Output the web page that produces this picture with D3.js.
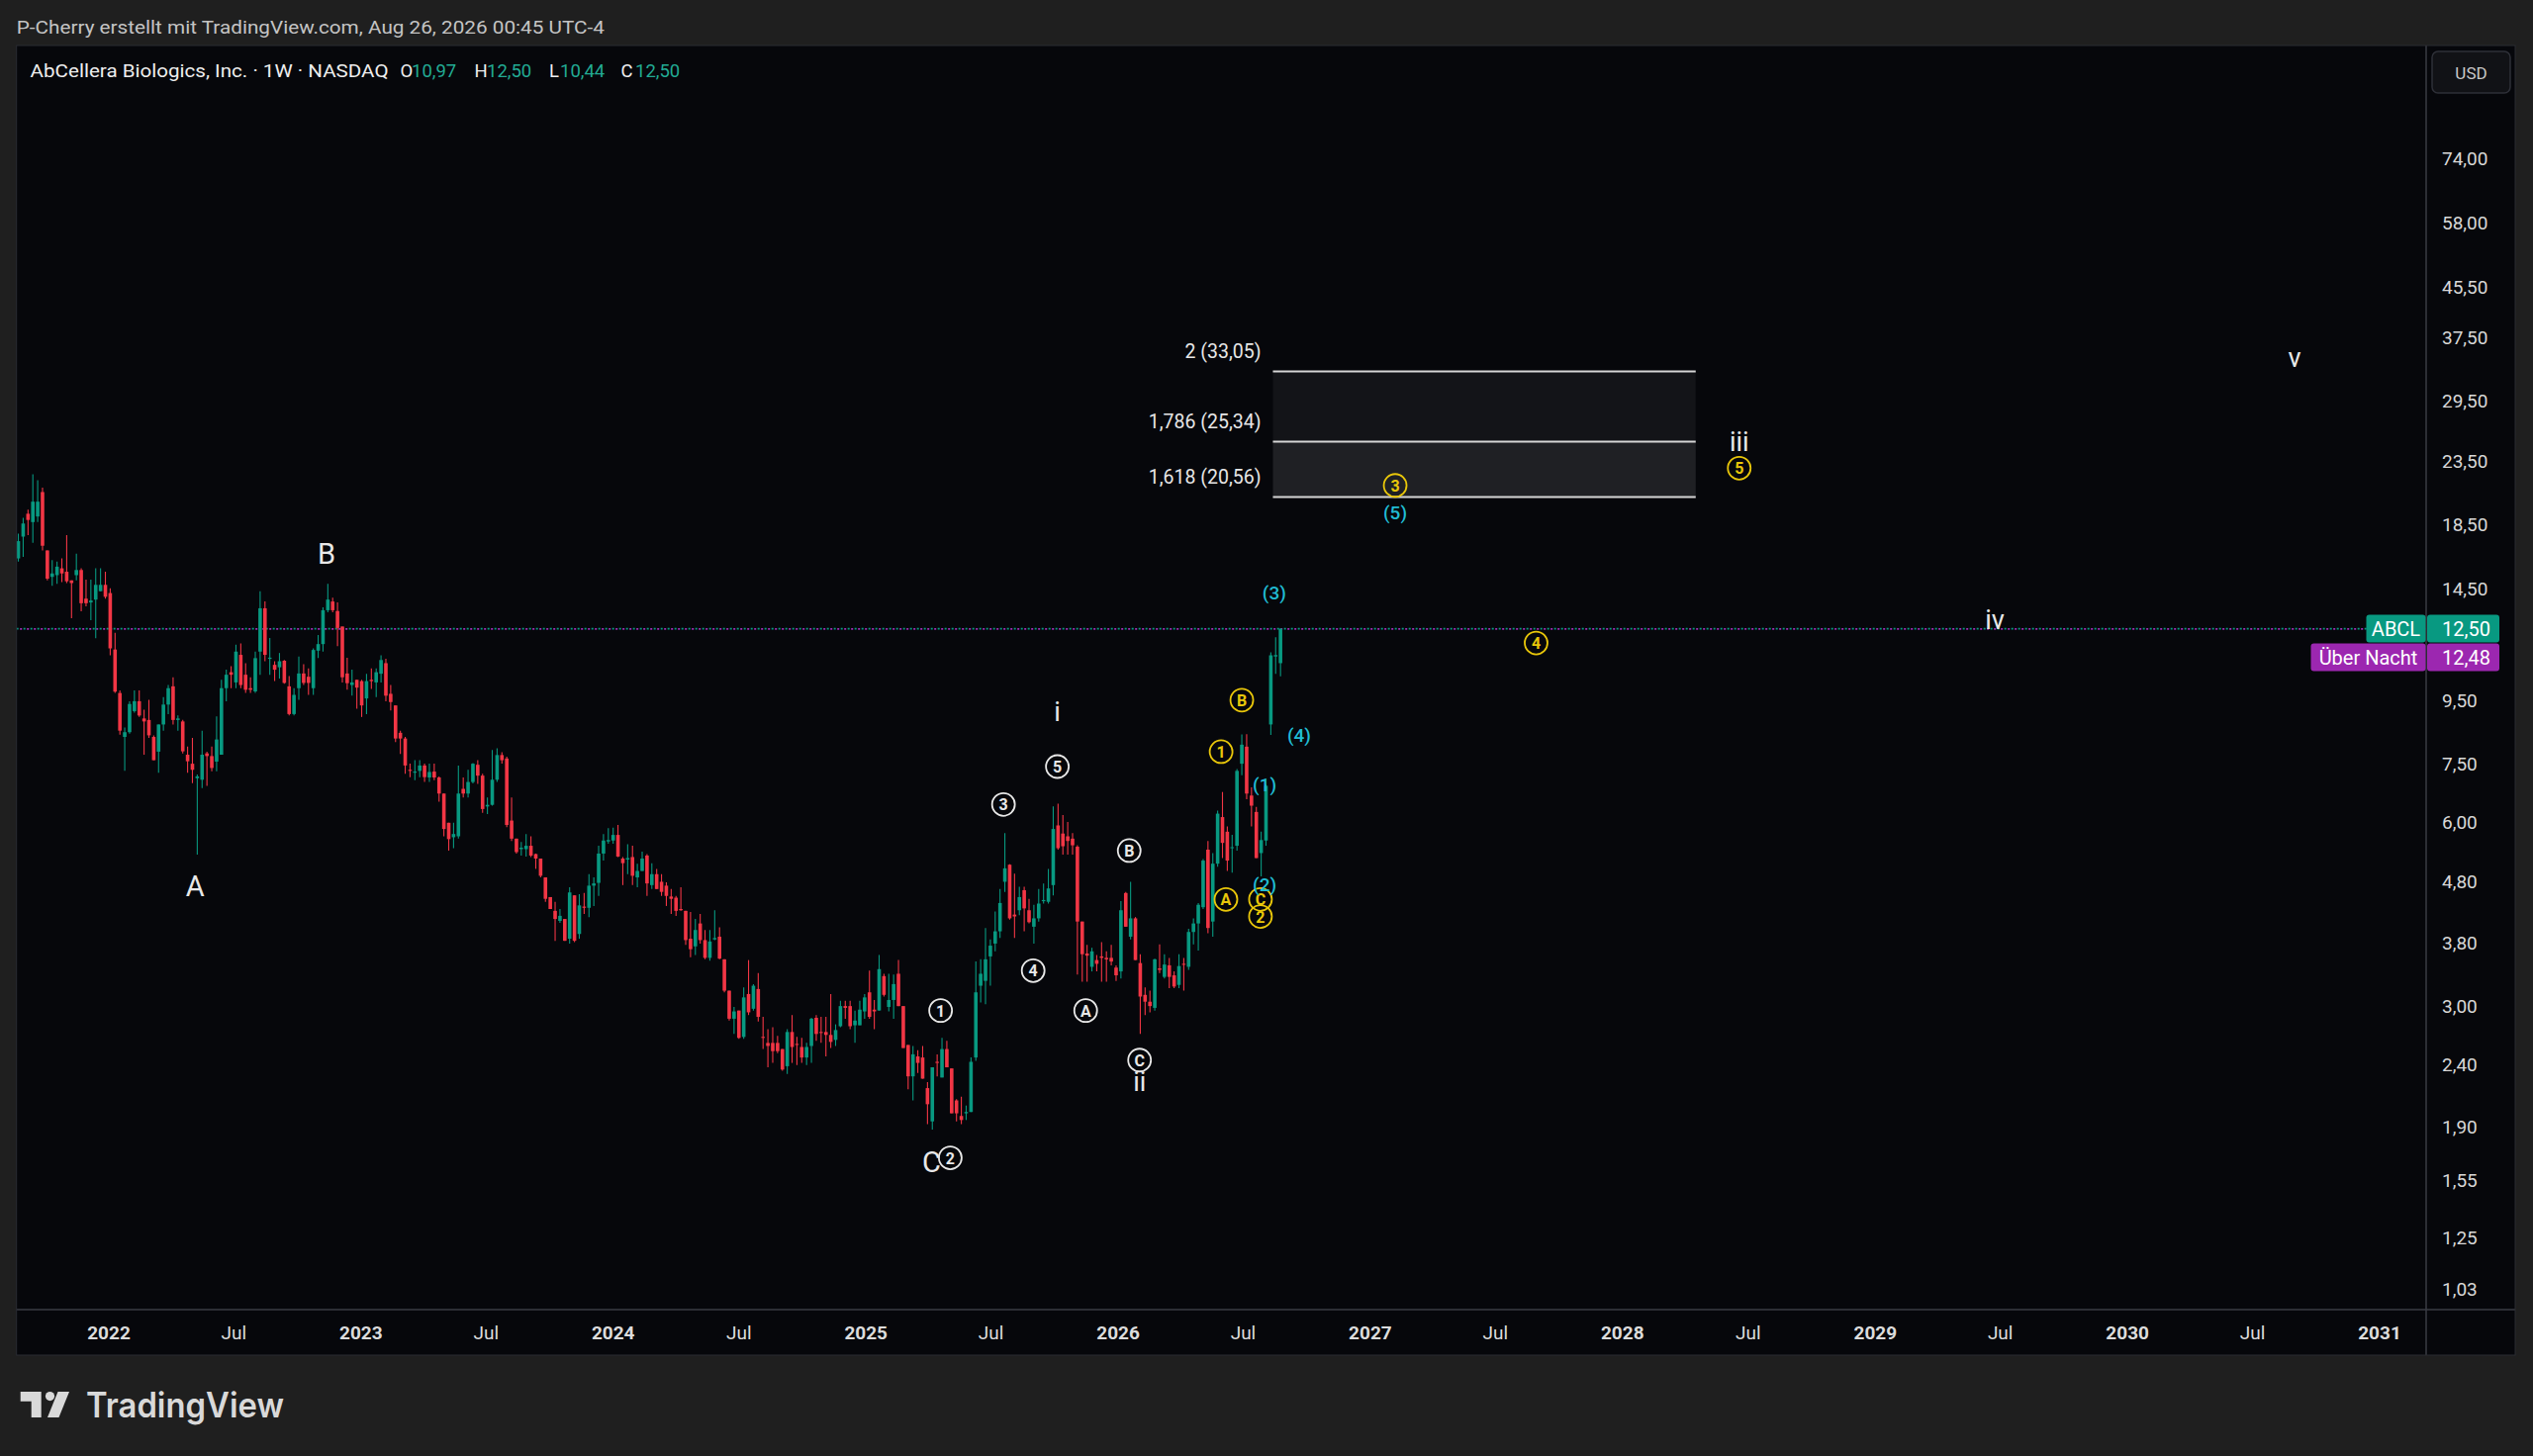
<!DOCTYPE html>
<html><head><meta charset="utf-8">
<script src="https://cdnjs.cloudflare.com/ajax/libs/d3/7.8.5/d3.min.js"></script>
<style>html,body{margin:0;padding:0;background:#1f1f1f;overflow:hidden}svg{display:block}</style>
</head><body>
<svg id="chart" width="2560" height="1472"></svg>
<script>
// ---------------- DATA ----------------
const firstWeek = "2021-08-23";   // weekly candles, Monday of first week
const openP = [
16.3,17.7,19.3,18.7,19.1,20.95,16.8,15.2,15.3,15.7,
15.5,15.0,15.3,15.6,14.0,13.8,13.95,14.4,14.75,14.3,
11.55,9.8,8.3,8.45,9.15,9.5,8.9,8.85,8.3,7.85,
8.7,9.38,10.05,8.85,8.8,7.76,7.5,7.1,7.06,7.8,
7.72,7.56,7.76,9.98,10.6,10.2,11.32,10.5,9.98,9.86,
11.46,13.5,11.15,10.9,10.8,11.07,10.05,9.05,9.98,10.55,
10.42,9.98,11.5,11.79,13.4,13.85,13.36,12.6,10.55,10.1,
10.3,10.25,9.6,10.3,10.2,10.54,10.97,9.77,9.35,8.43,
8.25,7.33,7.25,7.3,7.45,7.12,7.28,7.12,6.7,6.0,
5.68,5.7,6.82,6.7,7.0,7.47,7.17,6.38,6.42,7.06,
7.75,7.65,6.05,5.65,5.43,5.43,5.5,5.33,5.24,4.88,
4.53,4.3,4.14,4.17,3.87,4.56,3.94,4.37,4.35,4.73,
4.78,5.34,5.59,5.61,5.73,5.24,5.22,5.27,4.88,5.0,
5.3,4.74,4.94,4.8,4.73,4.54,4.52,4.33,4.3,3.87,
3.76,4.1,3.85,3.6,3.86,3.9,3.58,3.18,2.86,2.95,
2.67,3.14,2.97,3.2,2.67,2.61,2.61,2.61,2.55,2.39,
2.72,2.6,2.57,2.47,2.58,2.87,2.72,2.72,2.69,2.64,
2.78,3.0,3.0,2.79,2.79,2.94,3.16,2.96,2.95,3.36,
2.99,3.07,3.39,3.0,2.59,2.3,2.48,2.47,2.2,1.94,
2.43,2.29,2.55,2.37,2.1,1.98,2.0,2.01,2.47,3.24,
3.3,3.62,3.8,3.98,4.8,5.12,4.24,4.31,4.65,4.31,
4.05,4.18,4.46,4.45,4.74,5.94,5.76,5.7,5.65,5.48,
4.13,3.66,3.48,3.57,3.62,3.6,3.6,3.47,3.42,4.6,
3.9,4.18,3.53,3.13,3.05,2.98,3.46,3.35,3.5,3.37,
3.25,3.52,3.48,3.97,4.1,4.36,5.42,4.13,5.14,6.13,
5.8,5.45,5.5,7.5,8.0,6.65,6.25,5.35,5.61,8.7,
11.25,10.97];
const highP = [
17.9,19.0,19.6,22.4,21.9,21.3,16.8,16.2,16.1,16.3,
17.8,15.0,16.6,15.7,15.05,15.05,15.7,15.7,15.5,14.56,
12.3,9.9,8.6,9.5,9.9,9.9,9.2,9.55,8.35,8.7,
9.65,10.1,10.4,9.0,8.85,8.0,8.27,7.2,8.5,7.85,
8.0,8.97,10.3,10.7,10.85,11.76,11.82,10.97,10.4,11.46,
14.4,13.85,12.06,11.05,11.4,11.1,10.45,9.98,11.25,10.93,
10.75,11.6,12.2,13.55,14.8,14.05,13.8,12.6,11.2,10.7,
10.3,10.3,10.54,10.75,10.75,11.3,11.15,10.1,9.35,8.5,
8.3,7.5,7.6,7.6,7.5,7.5,7.5,7.15,6.7,6.0,
6.0,7.45,7.12,7.33,7.52,7.6,7.22,6.6,7.9,7.95,
7.83,7.7,6.6,5.65,5.58,5.75,5.7,5.34,5.24,4.88,
4.53,4.45,4.33,4.17,4.7,4.56,4.58,4.6,4.94,4.88,
5.5,5.75,5.88,5.89,5.95,5.27,5.53,5.5,5.14,5.38,
5.33,5.15,5.04,4.94,4.79,4.67,4.55,4.7,4.3,4.28,
4.17,4.25,4.0,4.0,4.31,4.04,3.58,3.18,2.99,2.95,
3.22,3.57,3.26,3.4,2.88,2.75,2.77,2.68,2.55,2.75,
2.9,2.67,2.66,2.61,2.87,2.9,2.88,2.88,3.14,2.8,
3.06,3.06,3.06,2.95,3.06,3.14,3.43,3.07,3.64,3.39,
3.39,3.38,3.57,3.0,2.59,2.58,2.54,2.58,2.25,2.38,
2.5,2.66,2.63,2.37,2.11,2.13,2.06,2.47,3.55,3.58,
4.03,3.86,4.29,4.67,5.77,5.13,4.95,4.71,4.71,4.5,
4.4,4.67,4.77,5.04,6.38,6.45,6.18,6.02,5.77,5.51,
4.13,3.78,3.74,3.64,3.82,3.69,3.78,3.5,4.46,4.62,
4.8,4.2,3.65,3.22,3.18,3.59,3.79,3.65,3.6,3.42,
3.65,3.6,4.02,4.18,4.43,5.23,5.6,5.35,6.28,6.74,
5.92,5.73,7.35,8.38,8.39,6.86,6.37,5.8,6.93,11.43,
12.1,12.5];
const lowP = [
16.1,16.4,17.8,17.3,18.7,16.8,15.0,14.7,14.8,14.9,
14.85,13.0,15.0,13.35,13.6,12.9,12.05,14.4,14.0,11.3,
9.8,8.37,7.3,8.4,9.1,8.95,7.76,8.27,7.6,7.25,
8.5,9.05,8.7,8.5,7.8,7.25,6.97,5.32,6.84,6.9,
7.29,7.29,7.76,9.5,9.98,9.98,9.98,9.8,9.8,9.8,
10.5,11.05,10.5,10.25,10.35,10.15,9.0,9.0,9.55,10.1,
9.73,9.73,11.18,11.46,13.3,13.3,11.7,10.2,9.92,9.7,
9.23,8.95,9.05,9.95,9.65,10.2,9.5,9.17,8.14,7.78,
7.22,7.13,7.05,7.13,7.0,7.0,7.05,6.5,5.7,5.4,
5.45,5.65,6.6,6.6,6.96,6.95,6.23,6.2,6.4,7.0,
7.5,5.9,5.6,5.34,5.3,5.28,5.27,5.04,4.88,4.45,
4.33,3.84,4.11,3.84,3.8,3.82,3.87,4.25,4.2,4.38,
4.55,5.2,5.54,5.54,5.27,4.74,4.94,4.74,4.7,5.0,
4.55,4.67,4.67,4.55,4.38,4.25,4.22,4.3,3.78,3.61,
3.64,3.8,3.58,3.56,3.85,3.58,3.16,2.84,2.7,2.65,
2.65,2.9,2.95,2.83,2.55,2.38,2.42,2.51,2.35,2.32,
2.42,2.4,2.42,2.4,2.42,2.63,2.61,2.48,2.56,2.58,
2.77,2.86,2.75,2.61,2.79,2.86,2.86,2.75,2.95,3.11,
2.94,2.86,3.0,2.56,2.19,2.1,2.33,2.28,1.92,1.88,
2.3,2.29,2.38,2.0,1.94,1.92,1.95,2.01,2.44,3.04,
3.02,3.24,3.69,3.88,4.62,4.16,3.88,4.23,3.98,4.1,
3.8,4.13,4.42,4.42,4.56,5.42,5.32,5.32,5.32,3.38,
3.29,3.29,3.42,3.42,3.29,3.29,3.5,3.3,3.33,4.05,
3.86,3.57,2.7,2.9,2.93,2.95,3.4,3.33,3.21,3.21,
3.21,3.18,3.44,3.79,3.7,4.33,3.95,3.9,5.08,5.25,
5.0,4.97,5.4,7.18,6.56,5.92,5.25,4.9,5.5,8.36,
10.54,10.44];
const closeP = [
17.4,18.6,18.85,20.2,20.2,17.1,15.1,15.4,15.8,15.4,
14.95,14.85,15.6,13.76,13.76,13.9,14.75,14.75,14.1,11.6,
9.85,8.5,8.45,9.4,9.5,9.0,8.8,8.35,7.6,8.7,
9.38,9.98,8.85,8.9,7.86,7.57,7.33,7.15,7.76,7.72,
7.38,8.22,9.98,10.5,10.5,11.46,10.1,9.92,9.92,11.18,
13.5,11.32,11.2,10.7,11.05,10.18,9.05,9.73,10.55,10.18,
10.18,11.53,11.79,13.4,13.95,13.4,12.53,10.4,10.17,10.2,
10.0,9.35,10.25,10.25,10.6,11.1,9.7,9.47,8.25,8.25,
7.45,7.3,7.28,7.45,7.13,7.27,7.12,6.7,5.86,5.64,
5.75,6.7,6.7,7.0,7.5,7.17,6.32,6.42,7.06,7.75,
7.6,5.95,5.65,5.37,5.46,5.5,5.3,5.24,4.91,4.5,
4.33,4.17,4.22,3.84,4.61,3.84,4.39,4.35,4.73,4.77,
5.34,5.61,5.62,5.73,5.28,5.15,5.25,4.91,5.0,5.24,
4.77,4.94,4.67,4.62,4.55,4.5,4.3,4.31,3.85,3.72,
4.0,3.85,3.6,3.83,3.88,3.59,3.18,2.86,2.94,2.66,
3.1,2.93,3.24,2.88,2.66,2.58,2.53,2.53,2.36,2.72,
2.57,2.59,2.47,2.57,2.86,2.7,2.71,2.69,2.62,2.74,
3.0,2.98,2.78,2.84,2.96,3.1,2.88,2.94,3.45,3.13,
3.07,3.26,3.0,2.56,2.3,2.5,2.42,2.28,2.07,2.38,
2.42,2.55,2.38,2.0,2.0,1.95,2.01,2.43,3.16,3.39,
3.58,3.77,3.98,4.43,5.05,4.18,4.21,4.53,4.34,4.12,
4.18,4.42,4.48,4.68,5.86,5.45,5.49,5.6,5.51,4.13,
3.65,3.63,3.69,3.52,3.6,3.58,3.55,3.37,4.31,4.05,
4.18,3.57,3.11,3.05,3.0,3.58,3.44,3.51,3.35,3.23,
3.49,3.51,3.97,4.1,4.4,5.2,4.03,5.14,6.21,5.56,
5.2,5.47,7.3,8.06,6.7,6.4,5.25,5.62,6.9,11.3,
11.31,12.5];

const yTickValues = [74,58,45.5,37.5,29.5,23.5,18.5,14.5,9.5,7.5,6,4.8,3.8,3,2.4,1.9,1.55,1.25,1.03];
const xTickDates = ["2022-01-01","2022-07-01","2023-01-01","2023-07-01","2024-01-01","2024-07-01",
  "2025-01-01","2025-07-01","2026-01-01","2026-07-01","2027-01-01","2027-07-01","2028-01-01",
  "2028-07-01","2029-01-01","2029-07-01","2030-01-01","2030-07-01","2031-01-01"];
const xTickLabels = ["2022","Jul","2023","Jul","2024","Jul","2025","Jul","2026","Jul","2027","Jul",
  "2028","Jul","2029","Jul","2030","Jul","2031"];

const fibRatios = ["2","1,786","1,618"];
const fibPrices = [33.05,25.34,20.56];
const fibStart = "2026-08-13", fibEnd = "2028-04-16";

const lastPrice = 12.50, overnightPrice = 12.48;
const symbol = "ABCL", overnightName = "Über Nacht";
const titleText = "AbCellera Biologics, Inc. · 1W · NASDAQ";
const creditText = "P-Cherry erstellt mit TradingView.com, Aug 26, 2026 00:45 UTC-4";

// wave labels: text, date, price, style
const waveText  = ["A","B","C","2","1","3","4","5","i","A","B","C","ii",
  "A","C","2","(2)","(1)","1","B","(4)","(3)","3","(5)","iii","5","4","iv","v"];
const waveDate  = ["2022-05-06","2022-11-12","2025-04-06","2025-05-03","2025-04-19","2025-07-19","2025-08-31","2025-10-05","2025-10-05","2025-11-15","2026-01-17","2026-02-01","2026-02-01",
  "2026-06-06","2026-07-26","2026-07-26","2026-08-01","2026-08-01","2026-05-30","2026-06-29","2026-09-20","2026-08-15","2027-02-06","2027-02-06","2028-06-18","2028-06-18","2027-08-29","2029-06-23","2030-08-31"];
const wavePrice = [4.72,16.58,1.663,1.69,2.95,6.43,3.43,7.42,9.12,2.95,5.40,2.446,2.251,
  4.49,4.49,4.21,4.74,6.93,7.85,9.54,8.35,14.28,21.48,19.33,25.33,22.93,11.84,12.92,34.8];
const waveStyle = ["big","big","big","wc","wc","wc","wc","wc","rom","wc","wc","wc","rom",
  "yc","yc","yc","cy","cy","yc","yc","cy","cy","yc","cy","rom","yc","yc","rom","rom"];

// ---------------- LAYOUT ----------------
const W = 2560, H = 1472;
const pane = {x0:16.7, x1:2452, y0:46, y1:1324, axisBottom:1370, right:2542};
const UP = "#089981", DOWN = "#f23645";
const YELLOW = "#e9c70a", CYAN = "#20bcd4", WHITE = "#e8e8e8";
const FONT = "Roboto, 'Noto Sans', sans-serif";

const svg = d3.select("#chart");
const loc = d3.formatLocale({decimal:",", thousands:".", grouping:[3], currency:["","$"]});
const fmt = loc.format(".2f");

const x = d3.scaleUtc().domain([new Date("2022-01-01"), new Date("2031-01-01")]).range([110, 2405]);
const y = d3.scaleLog().domain([1.03, 74]).range([1303, 160]);

const t0 = new Date(firstWeek).getTime();
const candles = closeP.map((c,i)=>({date:new Date(t0 + i*7*86400000), o:openP[i], h:highP[i], l:lowP[i], c:c}));

// backgrounds
svg.append("rect").attr("width",W).attr("height",H).attr("fill","#1f1f1f");
svg.append("rect").attr("x",pane.x0).attr("y",pane.y0).attr("width",pane.right-pane.x0)
  .attr("height",pane.axisBottom-pane.y0).attr("fill","#06070b");

// credit line
svg.append("text").attr("x",16.8).attr("y",27).attr("dominant-baseline","central")
  .attr("font-family",FONT).attr("font-size",19).attr("fill","#c4c4c4")
  .attr("textLength",594).attr("lengthAdjust","spacingAndGlyphs").text(creditText);

// clip
svg.append("clipPath").attr("id","plotclip").append("rect")
  .attr("x",pane.x0).attr("y",pane.y0).attr("width",pane.x1-pane.x0).attr("height",pane.y1-pane.y0);
const plot = svg.append("g").attr("clip-path","url(#plotclip)");

// fib box
const fx0 = x(new Date(fibStart)), fx1 = x(new Date(fibEnd));
plot.append("rect").attr("x",fx0).attr("width",fx1-fx0)
  .attr("y",y(fibPrices[0])).attr("height",y(fibPrices[1])-y(fibPrices[0])).attr("fill","#131418");
plot.append("rect").attr("x",fx0).attr("width",fx1-fx0)
  .attr("y",y(fibPrices[1])).attr("height",y(fibPrices[2])-y(fibPrices[1])).attr("fill","#1f2024");
fibPrices.forEach((p,i)=>{
  plot.append("line").attr("x1",fx0).attr("x2",fx1).attr("y1",y(p)).attr("y2",y(p))
    .attr("stroke","#d6d6d6").attr("stroke-width",2);
  plot.append("text").attr("x",fx0-12).attr("y",y(p)-20).attr("text-anchor","end")
    .attr("dominant-baseline","central").attr("font-family",FONT).attr("font-size",19.5)
    .attr("fill","#e6e6e6").text(fibRatios[i]+" ("+fmt(p)+")");
});

// price lines
plot.append("line").attr("x1",pane.x0).attr("x2",pane.x1).attr("y1",y(lastPrice)).attr("y2",y(lastPrice))
  .attr("stroke",UP).attr("stroke-width",1.8).attr("stroke-dasharray","2 5");
plot.append("line").attr("x1",pane.x0).attr("x2",pane.x1).attr("y1",y(overnightPrice)).attr("y2",y(overnightPrice))
  .attr("stroke","#a12fb8").attr("stroke-width",1.8).attr("stroke-dasharray","2 5").attr("stroke-dashoffset",3.5);

// candles
const bw = 3.6;
const cg = plot.append("g");
cg.selectAll("line.wick").data(candles).join("line").attr("class","wick")
  .attr("x1",d=>x(d.date)).attr("x2",d=>x(d.date))
  .attr("y1",d=>y(d.h)).attr("y2",d=>y(d.l))
  .attr("stroke",d=>d.c>=d.o?UP:DOWN).attr("stroke-width",1.1);
cg.selectAll("rect.body").data(candles).join("rect").attr("class","body")
  .attr("x",d=>x(d.date)-bw/2).attr("width",bw)
  .attr("y",d=>y(Math.max(d.o,d.c)))
  .attr("height",d=>Math.max(1,Math.abs(y(d.o)-y(d.c))))
  .attr("fill",d=>d.c>=d.o?UP:DOWN);

// wave labels
waveText.forEach((t,i)=>{
  const px = x(new Date(waveDate[i])), py = y(wavePrice[i]), s = waveStyle[i];
  if (s==="big" || s==="rom"){
    plot.append("text").attr("x",px).attr("y",py).attr("text-anchor","middle")
      .attr("dominant-baseline","central").attr("font-family",FONT)
      .attr("font-size",s==="big"?29:27).attr("fill",WHITE).text(t);
  } else if (s==="cy"){
    plot.append("text").attr("x",px).attr("y",py).attr("text-anchor","middle")
      .attr("dominant-baseline","central").attr("font-family",FONT).attr("font-weight",500)
      .attr("font-size",19).attr("fill",CYAN).text(t);
  } else {
    const col = s==="wc"?WHITE:YELLOW;
    plot.append("circle").attr("cx",px).attr("cy",py).attr("r",11.5)
      .attr("fill","none").attr("stroke",col).attr("stroke-width",1.8);
    plot.append("text").attr("x",px).attr("y",py+0.5).attr("text-anchor","middle")
      .attr("dominant-baseline","central").attr("font-family",FONT).attr("font-weight",700)
      .attr("font-size",16).attr("fill",col).text(t);
  }
});

// axes frame lines
svg.append("line").attr("x1",pane.x1).attr("x2",pane.x1).attr("y1",pane.y0).attr("y2",pane.axisBottom)
  .attr("stroke","#3a3d45").attr("stroke-width",1.5);
svg.append("line").attr("x1",pane.x0).attr("x2",pane.right).attr("y1",pane.y1).attr("y2",pane.y1)
  .attr("stroke","#3a3d45").attr("stroke-width",1.5);
svg.append("rect").attr("x",pane.x0).attr("y",pane.y0).attr("width",pane.right-pane.x0)
  .attr("height",pane.axisBottom-pane.y0).attr("fill","none").attr("stroke","#2a2c33").attr("stroke-width",1);

// y axis labels
const ya = svg.append("g");
ya.selectAll("text").data(yTickValues).join("text")
  .attr("x",2468).attr("y",d=>y(d)).attr("dominant-baseline","central")
  .attr("font-family",FONT).attr("font-size",19).attr("fill","#d8d8d8").text(d=>fmt(d));

// x axis labels
const xa = svg.append("g");
xa.selectAll("text").data(xTickDates).join("text")
  .attr("x",d=>x(new Date(d))).attr("y",1347.5).attr("text-anchor","middle")
  .attr("dominant-baseline","central").attr("font-family",FONT).attr("font-size",19)
  .attr("font-weight",(d,i)=>xTickLabels[i]==="Jul"?400:700)
  .attr("fill","#dcdcdc").text((d,i)=>xTickLabels[i]);

// USD button
svg.append("rect").attr("x",2458).attr("y",52).attr("width",79).attr("height",42).attr("rx",6)
  .attr("fill","#111216").attr("stroke","#2e3038").attr("stroke-width",1.5);
svg.append("text").attr("x",2497.5).attr("y",73.5).attr("text-anchor","middle").attr("dominant-baseline","central")
  .attr("font-family",FONT).attr("font-size",17).attr("fill","#c8c8c8").text("USD");

// price tags
function tag(label, price, yc, color, labelW){
  svg.append("rect").attr("x",pane.x1-labelW-0.5).attr("y",yc-14).attr("width",labelW).attr("height",28)
    .attr("rx",3).attr("fill",color);
  svg.append("text").attr("x",pane.x1-labelW/2-0.5).attr("y",yc+0.5).attr("text-anchor","middle")
    .attr("dominant-baseline","central").attr("font-family",FONT).attr("font-size",20)
    .attr("fill","#ffffff").text(label);
  svg.append("rect").attr("x",pane.x1+1).attr("y",yc-14).attr("width",73).attr("height",28)
    .attr("rx",3).attr("fill",color);
  svg.append("text").attr("x",2468).attr("y",yc+0.5)
    .attr("dominant-baseline","central").attr("font-family",FONT).attr("font-size",20)
    .attr("fill","#ffffff").text(fmt(price));
}
const yl = y(lastPrice);
tag(symbol, lastPrice, yl, UP, 60);
tag(overnightName, overnightPrice, yl+29, "#9c27b0", 116);

// legend
const last = candles[candles.length-1];
const lg = svg.append("g").attr("font-family",FONT).attr("font-size",18.5);
lg.append("text").attr("x",30.6).attr("y",71.5).attr("dominant-baseline","central")
  .attr("fill","#eeeeee").attr("textLength",362).attr("lengthAdjust","spacingAndGlyphs").text(titleText);
const ohlc = [["O",last.o,404.6,416],["H",last.h,479.6,492],["L",last.l,555,566],["C",last.c,627.5,642]];
ohlc.forEach(([k,v,kx,vx])=>{
  lg.append("text").attr("x",kx).attr("y",71.5).attr("dominant-baseline","central").attr("fill","#eeeeee").text(k);
  lg.append("text").attr("x",vx).attr("y",71.5).attr("dominant-baseline","central").attr("fill","#22ab94").text(fmt(v));
});

// TradingView logo
const logo = svg.append("g").attr("fill","#d9d9d9");
logo.append("path").attr("d","M20.7,1407 H41.7 V1433 H31.7 V1416.7 H20.7 Z");
logo.append("circle").attr("cx",50.5).attr("cy",1411.6).attr("r",4.6);
logo.append("path").attr("d","M58.5,1407 H70 L59.5,1433 H48 Z");
logo.append("text").attr("x",87).attr("y",1433).attr("font-family","Inter, Lato, sans-serif")
  .attr("font-weight",600).attr("font-size",35).attr("textLength",200).attr("lengthAdjust","spacingAndGlyphs")
  .text("TradingView");
</script>
</body></html>
